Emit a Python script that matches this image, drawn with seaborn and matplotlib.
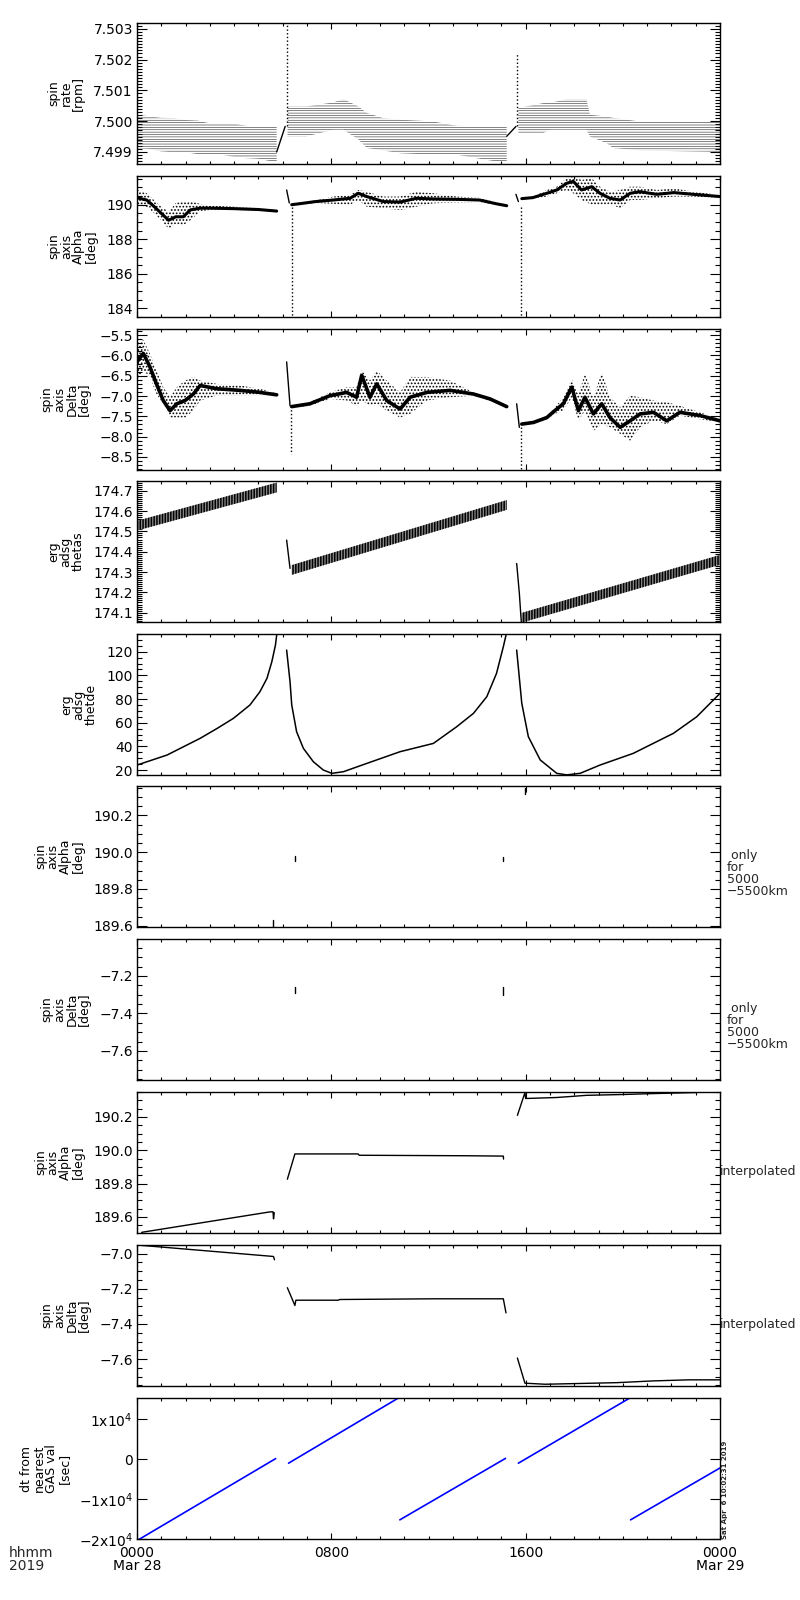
import numpy as np
import matplotlib
matplotlib.use('Agg')
import matplotlib.pyplot as plt
import seaborn as sns
from matplotlib.ticker import MultipleLocator, FuncFormatter

# time axis: hours after 2019-03-28 00:00
# ---------- panel 1 : spin rate [rpm] (quantised band, read as envelopes) ----------
rate_a_t = [0.0, 0.5, 1.0, 1.5, 2.0, 2.5, 3.0, 3.5, 4.0, 4.5, 5.0, 5.5, 5.75]
rate_a_hi = [7.50021, 7.50016, 7.50011, 7.50010, 7.50004, 7.50002, 7.49993, 7.49992,
             7.49992, 7.49985, 7.49983, 7.49983, 7.49983]
rate_a_lo = [7.49912, 7.49910, 7.49902, 7.49899, 7.49899, 7.49893, 7.49891, 7.49891,
             7.49884, 7.49880, 7.49878, 7.49870, 7.49869]
rate_b_t = [6.2, 6.98, 8.08, 8.5, 9.11, 9.46, 10.14, 10.83, 12.2, 13.16, 14.8, 15.22]
rate_b_hi = [7.50048, 7.50048, 7.50061, 7.50072, 7.50048, 7.50027, 7.50010, 7.50005,
             7.49999, 7.49985, 7.49983, 7.49983]
rate_b_lo = [7.49951, 7.49951, 7.49972, 7.49972, 7.49941, 7.49913, 7.49905, 7.49896,
             7.49891, 7.49891, 7.49869, 7.49869]
rate_c_t = [15.7, 16.73, 17.0, 17.69, 18.5, 18.65, 19.33, 19.6, 20.7, 24.0]
rate_c_hi = [7.50043, 7.50059, 7.50059, 7.50072, 7.50072, 7.50021, 7.50015, 7.50011,
             7.49999, 7.49999]
rate_c_lo = [7.49962, 7.49962, 7.49972, 7.49972, 7.49972, 7.49950, 7.49929, 7.49913,
             7.49905, 7.49900]
rate_ramp1 = ([5.75, 6.1], [7.49900, 7.49983])
rate_ramp2 = ([15.22, 15.6], [7.49951, 7.49983])
rate_spike1 = ([6.16, 6.16], [7.49985, 7.50330])
rate_spike2 = ([15.63, 15.63], [7.49985, 7.50222])

# ---------- panel 2 : spin axis Alpha (scatter cloud: centre / low / high) ----------
alpha_a_t = [0.0, 0.4, 0.7, 1.0, 1.3, 1.6, 1.9, 2.2, 2.6, 3.0, 4.0, 5.0, 5.75]
alpha_a_c = [190.4, 190.27, 189.9, 189.5, 189.1, 189.3, 189.3, 189.7, 189.8, 189.8, 189.77, 189.72, 189.63]
alpha_a_lo = [190.0, 189.88, 189.5, 189.1, 188.6, 188.9, 188.8, 189.1, 189.6, 189.7, 189.7, 189.65, 189.6]
alpha_a_hi = [190.85, 190.66, 190.27, 189.88, 189.6, 190.1, 190.2, 190.2, 190.05, 189.95, 189.88, 189.8, 189.68]
alpha_b_t = [6.37, 6.66, 7.35, 8.08, 8.77, 9.11, 9.46, 10.14, 10.83, 11.5, 12.2, 13.16, 14.1, 14.8, 15.22]
alpha_b_c = [190.0, 190.05, 190.18, 190.27, 190.37, 190.66, 190.47, 190.18, 190.15, 190.37, 190.33,
             190.31, 190.27, 190.05, 189.94]
alpha_b_lo = [189.98, 190.0, 190.1, 190.05, 189.99, 190.27, 189.88, 189.79, 189.69, 189.88, 190.08,
              190.12, 190.15, 189.99, 189.9]
alpha_b_hi = [190.02, 190.1, 190.25, 190.47, 190.56, 190.85, 190.75, 190.47, 190.47, 190.75, 190.66,
              190.47, 190.4, 190.12, 189.98]
alpha_c_t = [15.84, 16.3, 16.87, 17.28, 17.69, 17.96, 18.3, 18.72, 19.06, 19.47, 19.89, 20.3, 20.7,
             21.4, 22.1, 22.9, 24.0]
alpha_c_c = [190.35, 190.41, 190.66, 190.85, 191.24, 191.35, 190.85, 191.04, 190.66, 190.37, 190.27,
             190.66, 190.75, 190.6, 190.7, 190.6, 190.47]
alpha_c_lo = [190.33, 190.37, 190.47, 190.66, 190.85, 190.66, 190.27, 190.0, 190.0, 190.05, 189.79,
              190.27, 190.27, 190.37, 190.47, 190.47, 190.4]
alpha_c_hi = [190.37, 190.45, 190.85, 191.04, 191.53, 191.62, 191.43, 191.53, 191.04, 190.75, 190.85,
              191.04, 191.04, 190.85, 190.95, 190.75, 190.56]
alpha_hooks = [([6.16, 6.27], [190.85, 190.1]), ([15.6, 15.7], [190.6, 190.18])]
alpha_drops = [([6.37, 6.37], [189.88, 183.5]), ([15.8, 15.8], [189.88, 183.5])]

# ---------- panel 3 : spin axis Delta ----------
delta_a_t = [0.0, 0.26, 0.53, 0.8, 1.08, 1.36, 1.64, 1.98, 2.32, 2.6, 3.28, 4.24, 5.06, 5.75]
delta_a_c = [-6.16, -5.95, -6.28, -6.70, -7.11, -7.36, -7.19, -7.11, -6.95, -6.74, -6.82, -6.86, -6.91, -6.97]
delta_a_lo = [-6.6, -6.37, -6.53, -6.95, -7.19, -7.53, -7.53, -7.53, -7.36, -7.11, -6.99, -6.99, -6.99, -7.0]
delta_a_hi = [-5.7, -5.62, -5.95, -6.37, -6.78, -7.03, -6.78, -6.62, -6.53, -6.62, -6.7, -6.74, -6.82, -6.93]
delta_b_t = [6.37, 7.12, 7.95, 8.63, 9.04, 9.25, 9.59, 9.87, 10.28, 10.83, 11.24, 11.93, 12.89, 13.85,
             14.53, 15.22]
delta_b_c = [-7.26, -7.19, -6.99, -6.91, -7.03, -6.49, -7.03, -6.70, -7.11, -7.32, -7.03, -6.91, -6.86,
             -6.95, -7.07, -7.26]
delta_b_lo = [-7.28, -7.24, -7.07, -7.11, -7.24, -7.11, -7.24, -7.19, -7.36, -7.53, -7.44, -7.11, -7.03,
              -6.99, -7.12, -7.28]
delta_b_hi = [-7.24, -7.15, -6.91, -6.78, -6.78, -6.37, -6.62, -6.37, -6.62, -6.91, -6.53, -6.53, -6.62,
              -6.91, -7.05, -7.24]
delta_c_t = [15.84, 16.32, 16.87, 17.2, 17.55, 17.9, 18.17, 18.44, 18.79, 19.13, 19.47, 19.89, 20.3,
             20.71, 21.26, 21.81, 22.35, 23.18, 24.0]
delta_c_c = [-7.69, -7.65, -7.53, -7.36, -7.19, -6.78, -7.36, -7.03, -7.44, -7.19, -7.53, -7.77, -7.61,
             -7.44, -7.40, -7.61, -7.40, -7.48, -7.61]
delta_c_lo = [-7.71, -7.67, -7.57, -7.44, -7.36, -7.03, -7.61, -7.36, -7.86, -7.69, -7.77, -7.93, -8.10,
              -7.77, -7.61, -7.69, -7.48, -7.57, -7.65]
delta_c_hi = [-7.67, -7.63, -7.49, -7.28, -7.03, -6.57, -6.95, -6.45, -7.03, -6.41, -7.03, -7.28, -6.99,
              -7.03, -7.11, -7.15, -7.24, -7.40, -7.57]
delta_hooks = [([6.16, 6.3], [-6.16, -7.24]), ([15.63, 15.74], [-7.19, -7.77])]
delta_drops = [([6.35, 6.35], [-7.24, -8.43]), ([15.8, 15.8], [-7.77, -8.82])]

# ---------- panel 4 : erg adsg thetas (zig-zag band: centre and half width) ----------
thetas_t = [[0.0, 5.75], [6.37, 15.22], [15.84, 24.0]]
thetas_c = [[174.528, 174.716], [174.31, 174.63], [174.075, 174.36]]
thetas_half = 0.024
thetas_hooks = [([6.16, 6.3], [174.457, 174.318]),
                ([15.63, 15.74, 15.8, 15.82], [174.342, 174.195, 174.088, 174.055])]

# ---------- panel 5 : erg adsg thetde ----------
thetde_a_t = [0.0, 1.24, 2.6, 3.3, 3.97, 4.65, 5.06, 5.35, 5.55, 5.7, 5.75]
thetde_a_v = [24.2, 32.7, 46.8, 55.2, 63.7, 75.0, 86.2, 97.5, 111.5, 125.7, 134.0]
thetde_b_t = [6.16, 6.3, 6.37, 6.57, 6.85, 7.26, 7.67, 8.02, 8.5, 9.46, 10.83, 12.2, 13.16, 13.85,
              14.4, 14.8, 15.08, 15.19]
thetde_b_v = [121.4, 94.6, 75.0, 52.4, 38.3, 27.0, 20.0, 17.2, 18.6, 25.6, 35.5, 42.5, 56.6, 67.9,
              82.0, 101.7, 124.2, 134.0]
thetde_c_t = [15.63, 15.84, 16.11, 16.6, 17.28, 17.69, 18.24, 19.06, 20.43, 22.08, 23.04, 24.0]
thetde_c_v = [121.4, 76.4, 48.2, 28.5, 17.2, 15.9, 17.2, 24.2, 34.1, 51.0, 65.0, 84.8]

# ---------- panels 6, 7 : values only for 5000-5500 km ----------
alpha_sel = [([5.61, 5.61], [189.633, 189.595]), ([6.5, 6.5], [189.977, 189.951]),
             ([15.08, 15.08], [189.975, 189.953]), ([15.99, 15.99], [190.351, 190.314])]
delta_sel = [([6.5, 6.5], [-7.257, -7.292]), ([15.08, 15.08], [-7.257, -7.301])]

# ---------- panels 8, 9 : interpolated ----------
alpha_int = [([0.19, 5.48, 5.6, 5.62, 5.65], [189.507, 189.63, 189.63, 189.588, 189.625]),
             ([6.19, 6.5, 9.1, 9.15, 13.6, 15.08, 15.09], [189.826, 189.978, 189.978, 189.97, 189.967,
                                                          189.965, 189.947]),
             ([15.66, 15.97, 16.0, 17.28, 18.51, 20.02, 21.12, 23.04],
              [190.21, 190.346, 190.311, 190.317, 190.33, 190.335, 190.34, 190.347])]
delta_int = [([0.0, 5.6, 5.62, 5.66], [-6.951, -7.016, -7.017, -7.035]),
             ([6.19, 6.5, 6.54, 8.28, 8.35, 12.2, 15.08, 15.19],
              [-7.194, -7.295, -7.265, -7.265, -7.261, -7.257, -7.257, -7.337]),
             ([15.66, 15.97, 16.8, 19.75, 21.26, 22.7, 24.0],
              [-7.594, -7.737, -7.743, -7.734, -7.724, -7.718, -7.718])]

# ---------- panel 10 : dt from nearest GAS value [sec] ----------
dt_t0 = [0.0, 6.24, 10.82, 15.70, 20.32]
dt_t1 = [5.71, 10.76, 15.17, 20.28, 24.0]
dt_v0 = [-20400, -1000, -15200, -1000, -15200]
dt_v1 = [150, 15330, 200, 15300, -2200]

ylabels = ["spin\nrate\n[rpm]", "spin\naxis\nAlpha\n[deg]", "spin\naxis\nDelta\n[deg]",
           "erg\nadsg\nthetas", "erg\nadsg\nthetde", "spin\naxis\nAlpha\n[deg]",
           "spin\naxis\nDelta\n[deg]", "spin\naxis\nAlpha\n[deg]", "spin\naxis\nDelta\n[deg]",
           "dt from\nnearest\nGAS val\n[sec]"]
x_ticks = [0, 8, 16, 24]
x_ticklabels = ["0000\nMar 28", "0800", "1600", "0000\nMar 29"]
dt_ticklabels = {-20000: "\u22122x10$^4$", -10000: "\u22121x10$^4$", 0: "0", 10000: "1x10$^4$"}

# ---------- style ----------
sns.set_theme(style="ticks")
plt.rcParams["font.family"] = ["DejaVu Sans"]
plt.rcParams["axes.linewidth"] = 1.0
plt.rcParams["hatch.color"] = "black"

fig = plt.figure(figsize=(8, 16), dpi=100)
tops = [23, 176, 329, 481, 634, 786, 939, 1092, 1245, 1398]
axes = [fig.add_axes([137 / 800, 1 - (tp + 141) / 1600, 583 / 800, 141 / 1600]) for tp in tops]


def line(ax, t, v, **kw):
    kw.setdefault("color", "black")
    kw.setdefault("lw", 1.0)
    sns.lineplot(x=np.asarray(t, float), y=np.asarray(v, float), ax=ax, estimator=None,
                 sort=False, legend=False, **kw)


def fmt(spec):
    return FuncFormatter(lambda v, p: format(v, spec).replace("-", "\u2212"))


# panel 1
ax = axes[0]
with plt.rc_context({"hatch.linewidth": 0.4}):
    for t, lo, hi in [(rate_a_t, rate_a_lo, rate_a_hi), (rate_b_t, rate_b_lo, rate_b_hi),
                      (rate_c_t, rate_c_lo, rate_c_hi)]:
        ax.fill_between(t, lo, hi, facecolor="none", edgecolor="0.15", hatch="-------", lw=0)
for seg in (rate_ramp1, rate_ramp2):
    line(ax, *seg, lw=1.0)
for seg in (rate_spike1, rate_spike2):
    line(ax, *seg, lw=1.0, linestyle=":")

# panels 2 and 3
for ax, segs, hooks, drops, lw in [
        (axes[1], [(alpha_a_t, alpha_a_c, alpha_a_lo, alpha_a_hi), (alpha_b_t, alpha_b_c, alpha_b_lo, alpha_b_hi),
                   (alpha_c_t, alpha_c_c, alpha_c_lo, alpha_c_hi)], alpha_hooks, alpha_drops, 2.2),
        (axes[2], [(delta_a_t, delta_a_c, delta_a_lo, delta_a_hi), (delta_b_t, delta_b_c, delta_b_lo, delta_b_hi),
                   (delta_c_t, delta_c_c, delta_c_lo, delta_c_hi)], delta_hooks, delta_drops, 2.6)]:
    with plt.rc_context({"hatch.linewidth": 0.8}):
        for t, c, lo, hi in segs:
            ax.fill_between(t, lo, hi, facecolor="none", edgecolor="black", hatch=".....", lw=0)
    for t, c, lo, hi in segs:
        line(ax, t, c, lw=lw)
    for seg in hooks:
        line(ax, *seg, lw=1.0)
    for seg in drops:
        line(ax, *seg, lw=1.0, linestyle=":")

# panel 4
ax = axes[3]
with plt.rc_context({"hatch.linewidth": 1.1}):
    for t, c in zip(thetas_t, thetas_c):
        c = np.asarray(c)
        ax.fill_between(t, c - thetas_half, c + thetas_half, facecolor="0.55", edgecolor="black",
                        hatch="||||||", lw=0)
for seg in thetas_hooks:
    line(ax, *seg, lw=1.0)

# panel 5
ax = axes[4]
for t, v in [(thetde_a_t, thetde_a_v), (thetde_b_t, thetde_b_v), (thetde_c_t, thetde_c_v)]:
    line(ax, t, v, lw=1.1)

# panels 6 - 9
for seg in alpha_sel:
    line(axes[5], *seg, lw=1.0)
for seg in delta_sel:
    line(axes[6], *seg, lw=1.0)
for seg in alpha_int:
    line(axes[7], *seg, lw=1.0)
for seg in delta_int:
    line(axes[8], *seg, lw=1.0)

# panel 10
for t0, t1, v0, v1 in zip(dt_t0, dt_t1, dt_v0, dt_v1):
    line(axes[9], [t0, t1], [v0, v1], color="#0000ff", lw=1.2)

# axes limits and ticks
settings = [
    ((7.49861, 7.50319), 0.001, 0.0001, ".3f"),
    ((183.5, 191.66), 2, 0.5, ".0f"),
    ((-8.82, -5.35), 0.5, 0.1, ".1f"),
    ((174.054, 174.748), 0.1, 0.01, ".1f"),
    ((15.8, 135.0), 20, 5, ".0f"),
    ((189.593, 190.36), 0.2, 0.05, ".1f"),
    ((-7.755, -7.003), 0.2, 0.05, ".1f"),
    ((189.503, 190.35), 0.2, 0.05, ".1f"),
    ((-7.753, -6.951), 0.2, 0.05, ".1f"),
    ((-20000, 15330), 10000, None, None),
]
for ax, (ylim, major, minor, spec), lab in zip(axes, settings, ylabels):
    ax.set_facecolor("white")
    ax.set_xlim(0, 24)
    ax.set_ylim(*ylim)
    ax.xaxis.set_major_locator(MultipleLocator(8))
    ax.xaxis.set_minor_locator(MultipleLocator(1))
    ax.yaxis.set_major_locator(MultipleLocator(major))
    if minor:
        ax.yaxis.set_minor_locator(MultipleLocator(minor))
    if spec:
        ax.yaxis.set_major_formatter(fmt(spec))
    else:
        ax.yaxis.set_major_formatter(FuncFormatter(lambda v, p: dt_ticklabels.get(int(round(v)), "")))
    ax.tick_params(axis="both", which="both", direction="in", top=True, right=True,
                   width=0.8, color="black", labelcolor="black", labelsize=10, pad=3)
    ax.tick_params(axis="y", which="major", length=7.5)
    ax.tick_params(axis="y", which="minor", length=3.6)
    ax.tick_params(axis="x", which="major", length=4.5)
    ax.tick_params(axis="x", which="minor", length=2.5)
    ax.tick_params(axis="x", labelbottom=False)
    for sp in ax.spines.values():
        sp.set_visible(True)
        sp.set_color("black")
        sp.set_linewidth(1.0)
    ax.set_xlabel("")
    ax.set_ylabel(lab, fontsize=9, linespacing=0.95, labelpad=6, color="black")

bottom = axes[-1]
bottom.set_xticks(x_ticks)
bottom.set_xticklabels(x_ticklabels)
bottom.tick_params(axis="x", labelbottom=True, pad=5)
for lbl in bottom.get_xticklabels():
    lbl.set_linespacing(0.9)

for ax in (axes[5], axes[6]):
    ax.text(1.012, 0.38, " only\nfor\n5000\n\u22125500km", transform=ax.transAxes, ha="left",
            va="center", fontsize=9, linespacing=0.9)
for ax in (axes[7], axes[8]):
    ax.text(1.0, 0.436, "interpolated", transform=ax.transAxes, ha="left", va="center", fontsize=9)

fig.text(9 / 800, 1 - 1546 / 1600, "hhmm\n2019", ha="left", va="top", fontsize=10, linespacing=0.9)
fig.text(722 / 800, 1 - 1539 / 1600, "Sat Apr  6 10:02:31 2019", rotation=90, ha="left",
         va="bottom", fontsize=5, fontweight="bold")

fig.savefig("out.png", dpi=100, facecolor="white")
